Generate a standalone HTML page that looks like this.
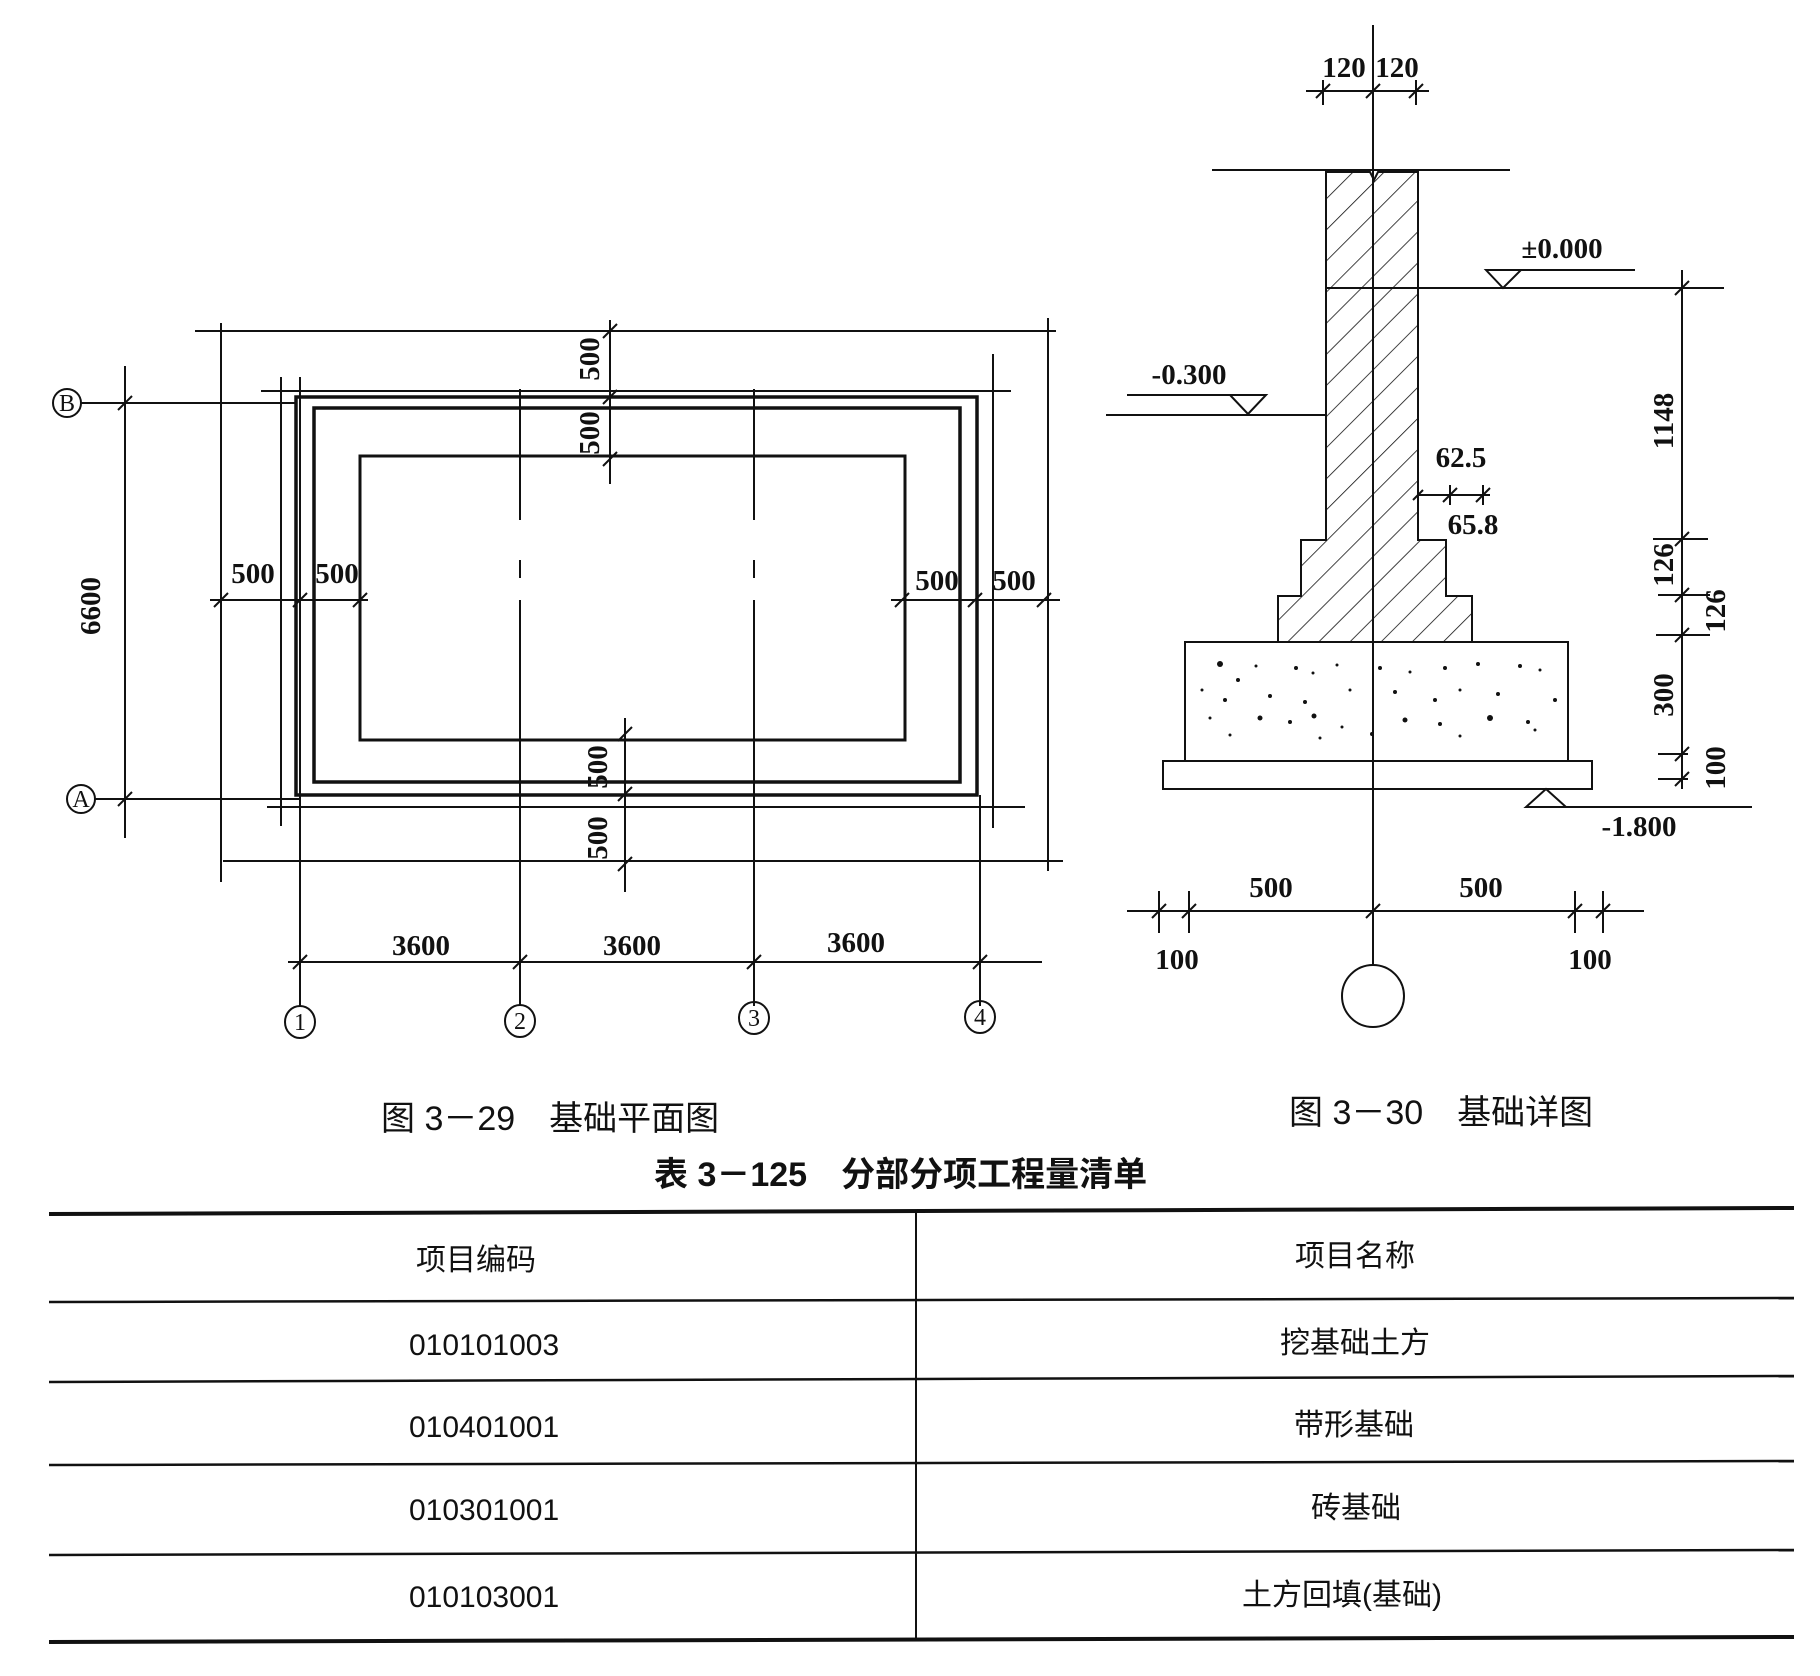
<!DOCTYPE html>
<html><head><meta charset="utf-8"><style>
html,body{margin:0;padding:0;background:#fff;}
svg{display:block;}
.d{font-family:"Liberation Serif","Noto Serif CJK SC",serif;font-size:29px;font-weight:bold;fill:#111;}
.c{font-family:"Liberation Sans","Noto Sans CJK SC",sans-serif;fill:#111;}
</style></head><body>
<svg width="1820" height="1676" viewBox="0 0 1820 1676" xmlns="http://www.w3.org/2000/svg">
<defs>
<pattern id="h" width="22" height="22" patternUnits="userSpaceOnUse" patternTransform="rotate(45)">
<line x1="0" y1="0" x2="0" y2="22" stroke="#111" stroke-width="1.6"/>
</pattern>
</defs>
<g stroke="#111" fill="none" stroke-width="2">
<line x1="195" y1="331" x2="1056" y2="331"/>
<line x1="221" y1="323" x2="221" y2="882"/>
<line x1="1048" y1="318" x2="1048" y2="871"/>
<line x1="223" y1="861" x2="1063" y2="861"/>
<line x1="261" y1="391" x2="1011" y2="391"/>
<line x1="281" y1="377" x2="281" y2="826"/>
<line x1="993" y1="354" x2="993" y2="828"/>
<line x1="267" y1="807" x2="1025" y2="807"/>
<rect x="296" y="397" width="681" height="398" stroke-width="3.5"/>
<rect x="314" y="408" width="646" height="374" stroke-width="3.5"/>
<rect x="360" y="456" width="545" height="284" stroke-width="3"/>
<circle cx="67" cy="403" r="14"/>
<line x1="81" y1="403" x2="296" y2="403"/>
<circle cx="81" cy="799" r="14"/>
<line x1="95" y1="799" x2="300" y2="799"/>
<line x1="125" y1="366" x2="125" y2="838"/>
<line x1="300" y1="377" x2="300" y2="1006"/>
<line x1="520" y1="389" x2="520" y2="520"/><line x1="520" y1="560" x2="520" y2="578"/><line x1="520" y1="600" x2="520" y2="1006"/>
<line x1="754" y1="389" x2="754" y2="520"/><line x1="754" y1="560" x2="754" y2="578"/><line x1="754" y1="600" x2="754" y2="1006"/>
<line x1="980" y1="795" x2="980" y2="1006"/>
<ellipse cx="300" cy="1022" rx="15" ry="16"/>
<ellipse cx="520" cy="1021" rx="15" ry="16"/>
<ellipse cx="754" cy="1018" rx="15" ry="16"/>
<ellipse cx="980" cy="1017" rx="15" ry="16"/>
<line x1="288" y1="962" x2="1042" y2="962"/>
<line x1="210" y1="600" x2="368" y2="600"/>
<line x1="891" y1="600" x2="1060" y2="600"/>
<line x1="610" y1="320" x2="610" y2="484"/>
<line x1="625" y1="718" x2="625" y2="892"/>
<path d="M118 410L132 396M118 806L132 792M293 969L307 955M513 969L527 955M747 969L761 955M973 969L987 955
M214 607L228 593M293 607L307 593M353 607L367 593M895 607L909 593M968 607L982 593M1037 607L1051 593
M603 338L617 324M603 404L617 390M603 466L617 452M618 741L632 727M618 801L632 787M618 871L632 857"/>
<line x1="1373" y1="25" x2="1373" y2="965"/>
<circle cx="1373" cy="996" r="31"/>
<line x1="1212" y1="170" x2="1510" y2="170"/>
<path d="M1326 172 L1326 540 L1301 540 L1301 596 L1278 596 L1278 642 L1472 642 L1472 596 L1446 596 L1446 540 L1418 540 L1418 172 L1378 172 L1374 180 L1370 172 Z" fill="url(#h)"/>
<line x1="1326" y1="288" x2="1724" y2="288"/>
<line x1="1486" y1="270" x2="1635" y2="270"/>
<path d="M1486 270 L1521 270 L1503 288 Z"/>
<line x1="1106" y1="415" x2="1326" y2="415"/>
<line x1="1127" y1="395" x2="1266" y2="395"/>
<path d="M1230 395 L1266 395 L1248 414 Z"/>
<rect x="1185" y="642" width="383" height="119"/>
<rect x="1163" y="761" width="429" height="28"/>
<path d="M1526 807 L1566 807 L1546 789 Z"/>
<line x1="1526" y1="807" x2="1752" y2="807"/>
<line x1="1682" y1="270" x2="1682" y2="789"/>
<line x1="1653" y1="539" x2="1708" y2="539"/>
<line x1="1658" y1="595" x2="1710" y2="595"/>
<line x1="1656" y1="635" x2="1710" y2="635"/>
<line x1="1658" y1="754" x2="1688" y2="754"/>
<line x1="1658" y1="779" x2="1688" y2="779"/>
<path d="M1675 295L1689 281M1675 546L1689 532M1675 602L1689 588M1675 642L1689 628M1675 761L1689 747M1675 786L1689 772"/>
<line x1="1306" y1="91" x2="1429" y2="91"/>
<line x1="1323" y1="80" x2="1323" y2="105"/><line x1="1416" y1="80" x2="1416" y2="105"/>
<path d="M1316 98L1330 84M1366 98L1380 84M1409 98L1423 84"/>
<line x1="1418" y1="495" x2="1490" y2="495"/>
<line x1="1450" y1="485" x2="1450" y2="505"/><line x1="1483" y1="485" x2="1483" y2="505"/>
<path d="M1443 502L1457 488M1476 502L1490 488M1413 500L1423 490"/>
<line x1="1127" y1="911" x2="1644" y2="911"/>
<line x1="1159" y1="891" x2="1159" y2="933"/><line x1="1189" y1="891" x2="1189" y2="933"/>
<line x1="1575" y1="891" x2="1575" y2="933"/><line x1="1603" y1="891" x2="1603" y2="933"/>
<path d="M1152 918L1166 904M1182 918L1196 904M1366 918L1380 904M1568 918L1582 904M1596 918L1610 904"/>
<line x1="49" y1="1214" x2="1794" y2="1208" stroke-width="4"/>
<line x1="49" y1="1302" x2="1794" y2="1298" stroke-width="2.5"/>
<line x1="49" y1="1382" x2="1794" y2="1376" stroke-width="2.5"/>
<line x1="49" y1="1465" x2="1794" y2="1461" stroke-width="2.5"/>
<line x1="49" y1="1555" x2="1794" y2="1550" stroke-width="2.5"/>
<line x1="49" y1="1642" x2="1794" y2="1637" stroke-width="4"/>
<line x1="916" y1="1212" x2="916" y2="1640"/>
</g>
<g fill="#111">
<circle cx="1220" cy="664" r="3"/><circle cx="1238" cy="680" r="2"/><circle cx="1256" cy="666" r="1.5"/><circle cx="1296" cy="668" r="2"/><circle cx="1313" cy="673" r="1.5"/><circle cx="1337" cy="665" r="1.5"/><circle cx="1380" cy="668" r="2"/><circle cx="1410" cy="672" r="1.5"/><circle cx="1445" cy="668" r="2"/><circle cx="1478" cy="664" r="2"/><circle cx="1520" cy="666" r="2"/><circle cx="1540" cy="670" r="1.5"/>
<circle cx="1202" cy="690" r="1.5"/><circle cx="1225" cy="700" r="2"/><circle cx="1270" cy="696" r="2"/><circle cx="1305" cy="702" r="2"/><circle cx="1350" cy="690" r="1.5"/><circle cx="1395" cy="692" r="2"/><circle cx="1435" cy="700" r="2"/><circle cx="1460" cy="690" r="1.5"/><circle cx="1498" cy="694" r="2"/><circle cx="1555" cy="700" r="2"/>
<circle cx="1210" cy="718" r="1.5"/><circle cx="1260" cy="718" r="2.5"/><circle cx="1290" cy="722" r="2"/><circle cx="1314" cy="716" r="2.5"/><circle cx="1342" cy="727" r="1.5"/><circle cx="1405" cy="720" r="2.5"/><circle cx="1440" cy="724" r="2"/><circle cx="1490" cy="718" r="3"/><circle cx="1528" cy="722" r="2"/><circle cx="1230" cy="735" r="1.5"/><circle cx="1320" cy="738" r="1.5"/><circle cx="1372" cy="734" r="2"/><circle cx="1460" cy="736" r="1.5"/><circle cx="1535" cy="730" r="1.5"/>
</g>
<g class="d">
<text x="421" y="955" text-anchor="middle">3600</text>
<text x="632" y="955" text-anchor="middle">3600</text>
<text x="856" y="952" text-anchor="middle">3600</text>
<text x="253" y="583" text-anchor="middle">500</text>
<text x="337" y="583" text-anchor="middle">500</text>
<text x="937" y="590" text-anchor="middle">500</text>
<text x="1014" y="590" text-anchor="middle">500</text>
<text transform="translate(599,359) rotate(-90)" text-anchor="middle">500</text>
<text transform="translate(599,433) rotate(-90)" text-anchor="middle">500</text>
<text transform="translate(607,767) rotate(-90)" text-anchor="middle">500</text>
<text transform="translate(607,838) rotate(-90)" text-anchor="middle">500</text>
<text transform="translate(100,606) rotate(-90)" text-anchor="middle">6600</text>
</g>
<g class="d" style="font-size:24px;font-weight:normal">
<text x="67" y="411" text-anchor="middle">B</text>
<text x="81" y="807" text-anchor="middle">A</text>
<text x="300" y="1030" text-anchor="middle">1</text>
<text x="520" y="1029" text-anchor="middle">2</text>
<text x="754" y="1026" text-anchor="middle">3</text>
<text x="980" y="1025" text-anchor="middle">4</text>
</g>
<g class="d">
<text x="1344" y="77" text-anchor="middle">120</text>
<text x="1397" y="77" text-anchor="middle">120</text>
<text x="1562" y="258" text-anchor="middle">±0.000</text>
<text x="1189" y="384" text-anchor="middle">-0.300</text>
<text x="1461" y="467" text-anchor="middle">62.5</text>
<text x="1473" y="534" text-anchor="middle">65.8</text>
<text x="1639" y="836" text-anchor="middle">-1.800</text>
<text x="1271" y="897" text-anchor="middle">500</text>
<text x="1481" y="897" text-anchor="middle">500</text>
<text x="1177" y="969" text-anchor="middle">100</text>
<text x="1590" y="969" text-anchor="middle">100</text>
<text transform="translate(1673,421) rotate(-90)" text-anchor="middle">1148</text>
<text transform="translate(1673,565) rotate(-90)" text-anchor="middle">126</text>
<text transform="translate(1725,611) rotate(-90)" text-anchor="middle">126</text>
<text transform="translate(1673,695) rotate(-90)" text-anchor="middle">300</text>
<text transform="translate(1725,768) rotate(-90)" text-anchor="middle">100</text>
</g>
<g class="c" style="font-size:34px">
<text x="381" y="1130">图 3－29　基础平面图</text>
<text x="1289" y="1124">图 3－30　基础详图</text>
<text x="654" y="1186" style="font-weight:bold">表 3－125　分部分项工程量清单</text>
</g>
<g class="c" style="font-size:30px">
<text x="416" y="1270">项目编码</text>
<text x="1295" y="1266">项目名称</text>
<text x="409" y="1355">010101003</text>
<text x="1280" y="1353">挖基础土方</text>
<text x="409" y="1437">010401001</text>
<text x="1294" y="1435">带形基础</text>
<text x="409" y="1520">010301001</text>
<text x="1311" y="1518">砖基础</text>
<text x="409" y="1607">010103001</text>
<text x="1242" y="1605">土方回填(基础)</text>
</g>
</svg>
</body></html>
